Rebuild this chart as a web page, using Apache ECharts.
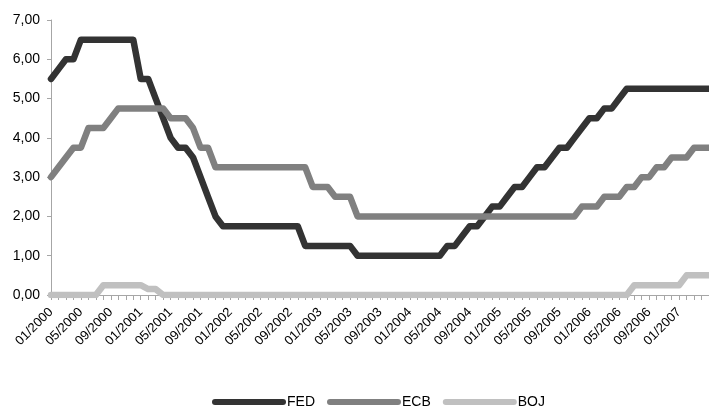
<!DOCTYPE html>
<html>
<head>
<meta charset="utf-8">
<script src="https://cdn.jsdelivr.net/npm/echarts@6/dist/echarts.min.js"></script>
<style>
html,body{margin:0;padding:0;background:#fff;}
#chart{width:709px;height:408px;}
</style>
</head>
<body>
<div id="chart"></div>
<script>
var months = [
 '01/2000','02/2000','03/2000','04/2000','05/2000','06/2000','07/2000','08/2000','09/2000','10/2000','11/2000','12/2000',
 '01/2001','02/2001','03/2001','04/2001','05/2001','06/2001','07/2001','08/2001','09/2001','10/2001','11/2001','12/2001',
 '01/2002','02/2002','03/2002','04/2002','05/2002','06/2002','07/2002','08/2002','09/2002','10/2002','11/2002','12/2002',
 '01/2003','02/2003','03/2003','04/2003','05/2003','06/2003','07/2003','08/2003','09/2003','10/2003','11/2003','12/2003',
 '01/2004','02/2004','03/2004','04/2004','05/2004','06/2004','07/2004','08/2004','09/2004','10/2004','11/2004','12/2004',
 '01/2005','02/2005','03/2005','04/2005','05/2005','06/2005','07/2005','08/2005','09/2005','10/2005','11/2005','12/2005',
 '01/2006','02/2006','03/2006','04/2006','05/2006','06/2006','07/2006','08/2006','09/2006','10/2006','11/2006','12/2006',
 '01/2007','02/2007','03/2007','04/2007','05/2007'
];
var tickLabels = [
 '01/2000','05/2000','09/2000','01/2001','05/2001','09/2001','01/2002','05/2002','09/2002',
 '01/2003','05/2003','09/2003','01/2004','05/2004','09/2004','01/2005','05/2005','09/2005',
 '01/2006','05/2006','09/2006','01/2007'
];
var fed = [
 5.50,5.75,6.00,6.00,6.50,6.50,6.50,6.50,6.50,6.50,6.50,6.50,
 5.50,5.50,5.00,4.50,4.00,3.75,3.75,3.50,3.00,2.50,2.00,1.75,
 1.75,1.75,1.75,1.75,1.75,1.75,1.75,1.75,1.75,1.75,1.25,1.25,
 1.25,1.25,1.25,1.25,1.25,1.00,1.00,1.00,1.00,1.00,1.00,1.00,
 1.00,1.00,1.00,1.00,1.00,1.25,1.25,1.50,1.75,1.75,2.00,2.25,
 2.25,2.50,2.75,2.75,3.00,3.25,3.25,3.50,3.75,3.75,4.00,4.25,
 4.50,4.50,4.75,4.75,5.00,5.25,5.25,5.25,5.25,5.25,5.25,5.25,
 5.25,5.25,5.25,5.25,5.25
];
var ecb = [
 3.00,3.25,3.50,3.75,3.75,4.25,4.25,4.25,4.50,4.75,4.75,4.75,
 4.75,4.75,4.75,4.75,4.50,4.50,4.50,4.25,3.75,3.75,3.25,3.25,
 3.25,3.25,3.25,3.25,3.25,3.25,3.25,3.25,3.25,3.25,3.25,2.75,
 2.75,2.75,2.50,2.50,2.50,2.00,2.00,2.00,2.00,2.00,2.00,2.00,
 2.00,2.00,2.00,2.00,2.00,2.00,2.00,2.00,2.00,2.00,2.00,2.00,
 2.00,2.00,2.00,2.00,2.00,2.00,2.00,2.00,2.00,2.00,2.00,2.25,
 2.25,2.25,2.50,2.50,2.50,2.75,2.75,3.00,3.00,3.25,3.25,3.50,
 3.50,3.50,3.75,3.75,3.75
];
var boj = [
 0.00,0.00,0.00,0.00,0.00,0.00,0.00,0.25,0.25,0.25,0.25,0.25,
 0.25,0.15,0.15,0.00,0.00,0.00,0.00,0.00,0.00,0.00,0.00,0.00,
 0.00,0.00,0.00,0.00,0.00,0.00,0.00,0.00,0.00,0.00,0.00,0.00,
 0.00,0.00,0.00,0.00,0.00,0.00,0.00,0.00,0.00,0.00,0.00,0.00,
 0.00,0.00,0.00,0.00,0.00,0.00,0.00,0.00,0.00,0.00,0.00,0.00,
 0.00,0.00,0.00,0.00,0.00,0.00,0.00,0.00,0.00,0.00,0.00,0.00,
 0.00,0.00,0.00,0.00,0.00,0.00,0.25,0.25,0.25,0.25,0.25,0.25,
 0.25,0.50,0.50,0.50,0.50
];
var seriesNames = ['FED','ECB','BOJ'];
var seriesColors = ['#333333','#808080','#c0c0c0'];

var font = "'Liberation Sans', Arial, sans-serif";
var chart = echarts.init(document.getElementById('chart'), null, {renderer:'canvas'});
var pill = 'path://M3,0 L71,0 A3,3 0 0 1 71,6 L3,6 A3,3 0 0 1 3,0 Z';
function mk(name, data, color){
  return {
    name: name, type: 'line', data: data, showSymbol: false, symbol: 'none',
    lineStyle: {color: color, width: 6.5, cap: 'round', join: 'round'},
    itemStyle: {color: color},
    animation: false
  };
}
chart.setOption({
  animation: false,
  grid: {left: 51, top: 20, bottom: 113, right: -1, containLabel: false},
  legend: {
    left: 212, top: 395, padding: 0,
    itemWidth: 74, itemHeight: 7, itemGap: 12,
    icon: pill,
    textStyle: {fontFamily: font, fontSize: 14, color: '#000', padding: [0,0,0,-4]},
    data: seriesNames
  },
  xAxis: {
    type: 'category', data: months, boundaryGap: false,
    axisLine: {show: true, lineStyle: {color: '#a6a6a6', width: 1}},
    axisTick: {show: true, interval: 0, length: 5, lineStyle: {color: '#a6a6a6'}},
    axisLabel: {
      interval: function(i, v){ return tickLabels.indexOf(v) >= 0; },
      rotate: 45, margin: 15, fontFamily: font, fontSize: 13, color: '#000'
    },
    splitLine: {show: false}
  },
  yAxis: {
    type: 'value', min: 0, max: 7, interval: 1,
    axisLine: {show: true, lineStyle: {color: '#a6a6a6', width: 1}},
    axisTick: {show: true, length: 4, lineStyle: {color: '#a6a6a6'}},
    axisLabel: {margin: 11, fontFamily: font, fontSize: 14, color: '#000',
      formatter: function(v){ return v.toFixed(2).replace('.', ','); }},
    splitLine: {show: false}
  },
  series: [
    mk(seriesNames[0], fed, seriesColors[0]),
    mk(seriesNames[1], ecb, seriesColors[1]),
    mk(seriesNames[2], boj, seriesColors[2])
  ]
});
</script>
</body>
</html>
